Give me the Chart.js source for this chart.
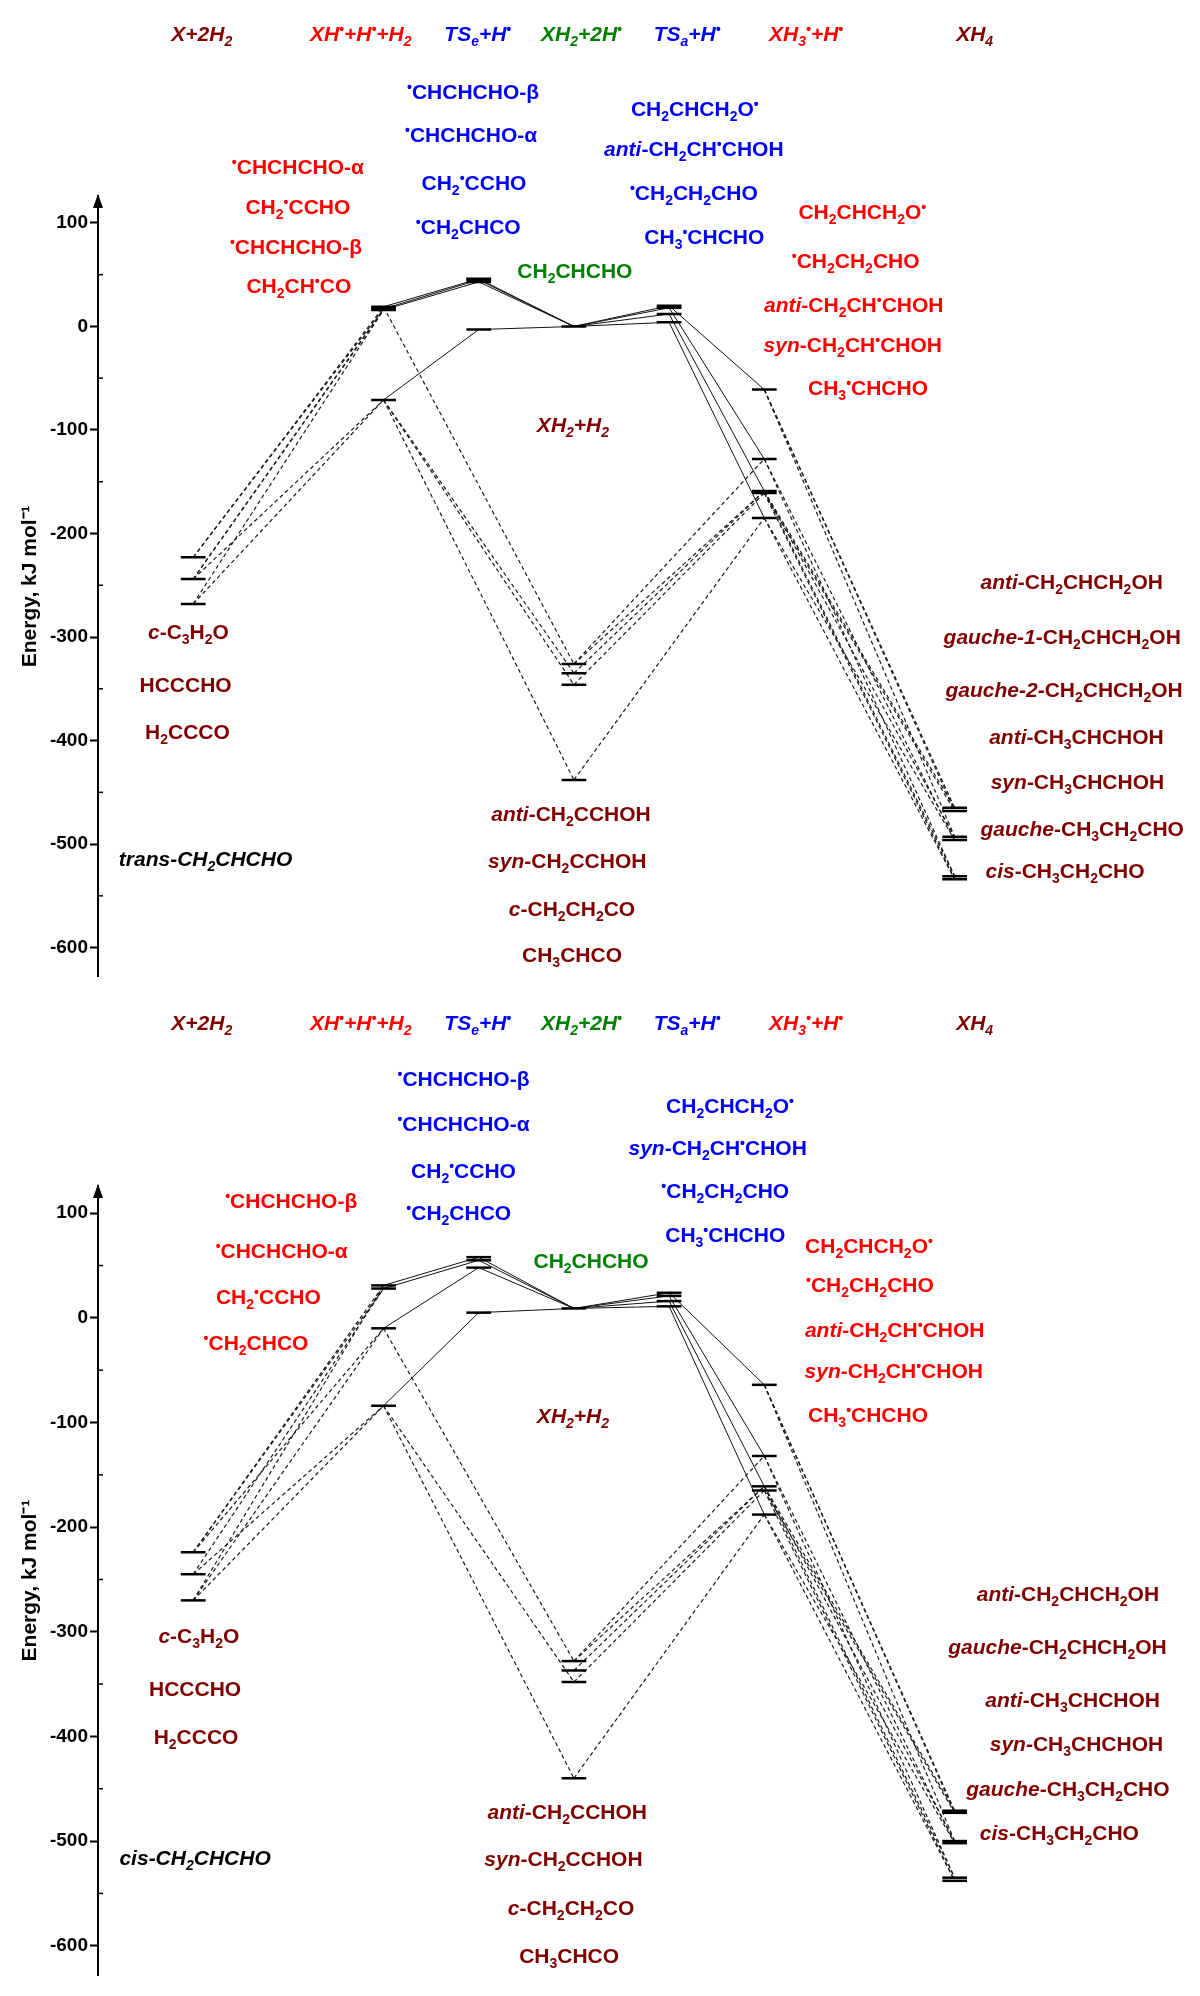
<!DOCTYPE html>
<html>
<head>
<meta charset="utf-8">
<title>Energy diagram</title>
<script src="https://cdn.jsdelivr.net/npm/chart.js@4.4.1/dist/chart.umd.min.js"></script>
<style>
  body { margin: 0; background: #fff; }
  .panel { position: relative; width: 1200px; }
  #topWrap { height: 990px; }
  #botWrap { height: 1006px; }
</style>
</head>
<body>
<div class="panel" id="topWrap"><canvas id="topChart"></canvas></div>
<div class="panel" id="botWrap"><canvas id="botChart"></canvas></div>
<script>
// stages: X, XH, TSe, XH2, XH2+H2, TSa, XH3, XH4
const stageX = [0, 2, 3, 4, 4, 5, 6, 8];
const yTicks = [-600, -500, -400, -300, -200, -100, 0, 100];
const yMinorTicks = [-550, -450, -350, -250, -150, -50, 50];

// trans-CH2CHCHO (kJ/mol)
const transX = [-223, -244, -268];
const transXH = [19, 17, 16, -71];
const transTSe = [46, 45, 43, -3];
const transXH2 = [0];
const transXH2H2 = [-326, -335, -346, -438];
const transTSa = [20, 18, 12, 4];
const transXH3 = [-61, -128, -159, -161, -185];
const transXH4 = [-465, -468, -493, -496, -531, -534];

// cis-CH2CHCHO (kJ/mol)
const cisX = [-224, -245, -270];
const cisXH = [31, 28, -10, -84];
const cisTSe = [58, 55, 48, 5];
const cisXH2 = [9];
const cisXH2H2 = [-328, -337, -348, -440];
const cisTSa = [24, 21, 16, 11];
const cisXH3 = [-64, -132, -161, -165, -188];
const cisXH4 = [-471, -473, -500, -502, -535, -538];

// links: [stageA, levelA, stageB, levelB]
const solidLinks = [
  [1, 0, 2, 0], [1, 1, 2, 1], [1, 2, 2, 2], [1, 3, 2, 3],
  [2, 0, 3, 0], [2, 1, 3, 0], [2, 2, 3, 0], [2, 3, 3, 0],
  [3, 0, 5, 0], [3, 0, 5, 1], [3, 0, 5, 2], [3, 0, 5, 3],
  [5, 0, 6, 0], [5, 1, 6, 1], [5, 2, 6, 2], [5, 3, 6, 4],
];
const dashedLinks = [
  [4, 0, 6, 1], [4, 0, 6, 2], [4, 1, 6, 2], [4, 2, 6, 3], [4, 3, 6, 4],
  [6, 0, 7, 0], [6, 0, 7, 1], [6, 0, 7, 2], [6, 1, 7, 3], [6, 1, 7, 4],
  [6, 2, 7, 0], [6, 2, 7, 2], [6, 2, 7, 4], [6, 3, 7, 1], [6, 3, 7, 5],
  [6, 4, 7, 3], [6, 4, 7, 5],
];
const transDashed = [
  [0, 0, 1, 0], [0, 0, 1, 1], [0, 1, 1, 1], [0, 1, 1, 2], [0, 1, 1, 3],
  [0, 2, 1, 2], [0, 2, 1, 3],
  [1, 0, 4, 0], [1, 3, 4, 1], [1, 3, 4, 2], [1, 3, 4, 3],
];
const cisDashed = [
  [0, 0, 1, 0], [0, 0, 1, 1], [0, 0, 1, 2], [0, 1, 1, 1], [0, 1, 1, 3],
  [0, 2, 1, 0], [0, 2, 1, 2], [0, 2, 1, 3],
  [1, 2, 4, 0], [1, 3, 4, 2], [1, 3, 4, 3],
];

const FONT = '"Liberation Sans", Arial, sans-serif';
const DR = "#800000", RED = "#ff0000", BLUE = "#0000ff", GREEN = "#008000", BLACK = "#000";
const LEVEL_HALF = 0.13;

// markup: *italic*, _x subscript, ^x superscript
const headers = [
  ["*X+2H_2*", DR, 0.09],
  ["*XH^•+H^•+H_2*", RED, 1.76],
  ["*TS_e+H^•*", BLUE, 2.99],
  ["*XH_2+2H^•*", GREEN, 4.08],
  ["*TS_a+H^•*", BLUE, 5.19],
  ["*XH_3^•+H^•*", RED, 6.44],
  ["*XH_4*", DR, 8.21],
];

const transLabels = [
  ["^•CHCHCHO-α", RED, 1.10, 154], ["CH_2^•CCHO", RED, 1.10, 115],
  ["^•CHCHCHO-β", RED, 1.08, 77], ["CH_2CH^•CO", RED, 1.11, 39],
  ["^•CHCHCHO-β", BLUE, 2.94, 226], ["^•CHCHCHO-α", BLUE, 2.92, 185],
  ["CH_2^•CCHO", BLUE, 2.95, 139], ["^•CH_2CHCO", BLUE, 2.89, 96],
  ["CH_2CHCHO", GREEN, 4.01, 54],
  ["CH_2CHCH_2O^•", BLUE, 5.27, 210], ["*anti*-CH_2CH^•CHOH", BLUE, 5.26, 171],
  ["^•CH_2CH_2CHO", BLUE, 5.26, 129], ["CH_3^•CHCHO", BLUE, 5.37, 86],
  ["CH_2CHCH_2O^•", RED, 7.03, 111], ["^•CH_2CH_2CHO", RED, 6.96, 63],
  ["*anti*-CH_2CH^•CHOH", RED, 6.94, 21], ["*syn*-CH_2CH^•CHOH", RED, 6.93, -18],
  ["CH_3^•CHCHO", RED, 7.09, -59],
  ["*XH_2+H_2*", DR, 3.99, -95],
  ["*c*-C_3H_2O", DR, -0.05, -295], ["HCCCHO", DR, -0.08, -346], ["H_2CCCO", DR, -0.06, -392],
  ["*trans-CH_2CHCHO*", BLACK, 0.13, -514],
  ["*anti*-CH_2CCHOH", DR, 3.97, -471], ["*syn*-CH_2CCHOH", DR, 3.93, -516],
  ["*c*-CH_2CH_2CO", DR, 3.98, -563], ["CH_3CHCO", DR, 3.98, -607],
  ["*anti*-CH_2CHCH_2OH", DR, 9.23, -247], ["*gauche-1-*CH_2CHCH_2OH", DR, 9.13, -300],
  ["*gauche-2-*CH_2CHCH_2OH", DR, 9.15, -351], ["*anti*-CH_3CHCHOH", DR, 9.28, -397],
  ["*syn*-CH_3CHCHOH", DR, 9.29, -440], ["*gauche*-CH_3CH_2CHO", DR, 9.34, -485],
  ["*cis*-CH_3CH_2CHO", DR, 9.16, -526],
];

const cisLabels = [
  ["^•CHCHCHO-β", RED, 1.03, 112], ["^•CHCHCHO-α", RED, 0.93, 64],
  ["CH_2^•CCHO", RED, 0.79, 20], ["^•CH_2CHCO", RED, 0.66, -24],
  ["^•CHCHCHO-β", BLUE, 2.84, 228], ["^•CHCHCHO-α", BLUE, 2.84, 185],
  ["CH_2^•CCHO", BLUE, 2.84, 140], ["^•CH_2CHCO", BLUE, 2.79, 100],
  ["CH_2CHCHO", GREEN, 4.18, 54],
  ["CH_2CHCH_2O^•", BLUE, 5.64, 202], ["*syn*-CH_2CH^•CHOH", BLUE, 5.51, 162],
  ["^•CH_2CH_2CHO", BLUE, 5.59, 121], ["CH_3^•CHCHO", BLUE, 5.59, 79],
  ["CH_2CHCH_2O^•", RED, 7.10, 69], ["^•CH_2CH_2CHO", RED, 7.11, 31],
  ["*anti*-CH_2CH^•CHOH", RED, 7.37, -12], ["*syn*-CH_2CH^•CHOH", RED, 7.36, -51],
  ["CH_3^•CHCHO", RED, 7.09, -93],
  ["*XH_2+H_2*", DR, 3.99, -94],
  ["*c*-C_3H_2O", DR, 0.06, -304], ["HCCCHO", DR, 0.02, -355], ["H_2CCCO", DR, 0.03, -401],
  ["*cis-CH_2CHCHO*", BLACK, 0.02, -516],
  ["*anti*-CH_2CCHOH", DR, 3.93, -472], ["*syn*-CH_2CCHOH", DR, 3.89, -517],
  ["*c*-CH_2CH_2CO", DR, 3.97, -564], ["CH_3CHCO", DR, 3.95, -610],
  ["*anti*-CH_2CHCH_2OH", DR, 9.19, -264], ["*gauche*-CH_2CHCH_2OH", DR, 9.08, -315],
  ["*anti*-CH_3CHCHOH", DR, 9.24, -365], ["*syn*-CH_3CHCHOH", DR, 9.28, -407],
  ["*gauche*-CH_3CH_2CHO", DR, 9.19, -450], ["*cis*-CH_3CH_2CHO", DR, 9.10, -492],
];

function parseRich(str) {
  const runs = [];
  let italic = false;
  for (let i = 0; i < str.length; i++) {
    const ch = str[i];
    if (ch === "*") { italic = !italic; continue; }
    if (ch === "_" || ch === "^") {
      runs.push({ text: str[i + 1], italic, mode: ch === "_" ? "sub" : "sup" });
      i++;
      continue;
    }
    const last = runs[runs.length - 1];
    if (last && last.mode === "n" && last.italic === italic) last.text += ch;
    else runs.push({ text: ch, italic, mode: "n" });
  }
  return runs;
}

function runFont(run) {
  const size = run.mode === "n" ? 21 : 14;
  return `${run.italic ? "italic " : ""}bold ${size}px ${FONT}`;
}

function drawRich(ctx, str, cx, cy, color) {
  const runs = parseRich(str);
  let total = 0;
  runs.forEach((r) => {
    ctx.font = runFont(r);
    r.w = ctx.measureText(r.text).width;
    total += r.w;
  });
  let x = cx - total / 2;
  const base = cy + 7;
  ctx.fillStyle = color;
  ctx.textBaseline = "alphabetic";
  ctx.textAlign = "left";
  runs.forEach((r) => {
    ctx.font = runFont(r);
    const dy = r.mode === "sub" ? 5 : r.mode === "sup" ? -7 : 0;
    ctx.fillText(r.text, x, base + dy);
    x += r.w;
  });
}

const axisExtras = {
  id: "axisExtras",
  afterDraw(chart) {
    const { ctx, chartArea, scales } = chart;
    const x0 = chartArea.left;
    ctx.save();
    ctx.fillStyle = "#000";
    ctx.beginPath();
    ctx.moveTo(x0, chartArea.top - 2);
    ctx.lineTo(x0 - 5, chartArea.top + 12);
    ctx.lineTo(x0 + 5, chartArea.top + 12);
    ctx.closePath();
    ctx.fill();
    ctx.strokeStyle = "#000";
    ctx.lineWidth = 1.5;
    yMinorTicks.forEach((v) => {
      const py = scales.y.getPixelForValue(v);
      ctx.beginPath();
      ctx.moveTo(x0, py);
      ctx.lineTo(x0 + 5, py);
      ctx.stroke();
    });
    ctx.restore();
  },
};

function makeLabelPlugin(labels) {
  return {
    id: "richLabels",
    afterDraw(chart) {
      const { ctx, scales } = chart;
      ctx.save();
      headers.forEach(([t, c, u]) => drawRich(ctx, t, scales.x.getPixelForValue(u), scales.y.getPixelForValue(282), c));
      labels.forEach(([t, c, u, e]) => drawRich(ctx, t, scales.x.getPixelForValue(u), scales.y.getPixelForValue(e), c));
      ctx.restore();
    },
  };
}

function makePanel(canvasId, levels, extraDashed, labels, padBottom) {
  const datasets = [];
  const link = (l, dashed) => {
    const [sa, ia, sb, ib] = l;
    datasets.push({
      data: [
        { x: stageX[sa], y: levels[sa][ia] },
        { x: stageX[sb], y: levels[sb][ib] },
      ],
      showLine: true,
      borderColor: dashed ? "#1a1a1a" : "#111",
      borderWidth: dashed ? 1.2 : 1,
      borderDash: dashed ? [4, 3] : [],
      pointRadius: 0,
      order: 1,
    });
  };
  solidLinks.forEach((l) => link(l, false));
  dashedLinks.concat(extraDashed).forEach((l) => link(l, true));
  levels.forEach((arr, s) =>
    arr.forEach((e) =>
      datasets.push({
        data: [
          { x: stageX[s] - LEVEL_HALF, y: e },
          { x: stageX[s] + LEVEL_HALF, y: e },
        ],
        showLine: true,
        borderColor: "#000",
        borderWidth: 2.5,
        pointRadius: 0,
        order: 0,
      })
    )
  );

  return new Chart(document.getElementById(canvasId), {
    type: "scatter",
    data: { datasets },
    options: {
      responsive: true,
      maintainAspectRatio: false,
      devicePixelRatio: 1,
      animation: false,
      events: [],
      layout: { padding: { top: 196, left: 14, right: 55, bottom: padBottom } },
      plugins: { legend: { display: false }, tooltip: { enabled: false } },
      scales: {
        x: { type: "linear", display: false, min: -1, max: 10 },
        y: {
          type: "linear",
          min: -628,
          max: 126,
          afterFit: (scale) => { scale.width = 84; },
          afterBuildTicks: (scale) => { scale.ticks = yTicks.map((v) => ({ value: v })); },
          border: { display: true, color: "#000", width: 2 },
          grid: { drawOnChartArea: false, tickLength: 8, tickColor: "#000", tickWidth: 2 },
          ticks: { color: "#000", padding: 2, font: { family: FONT, size: 19, weight: "bold" } },
          title: {
            display: true,
            text: "Energy, kJ mol⁻¹",
            color: "#000",
            padding: { top: 4, bottom: 0 },
            font: { family: FONT, size: 21, weight: "bold" },
          },
        },
      },
    },
    plugins: [axisExtras, makeLabelPlugin(labels)],
  });
}

makePanel(
  "topChart",
  [transX, transXH, transTSe, transXH2, transXH2H2, transTSa, transXH3, transXH4],
  transDashed,
  transLabels,
  5
);
makePanel(
  "botChart",
  [cisX, cisXH, cisTSe, cisXH2, cisXH2H2, cisTSa, cisXH3, cisXH4],
  cisDashed,
  cisLabels,
  21
);
</script>
</body>
</html>
